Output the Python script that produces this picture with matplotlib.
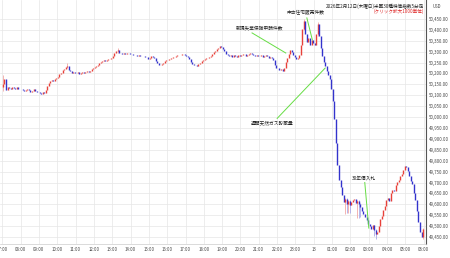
import matplotlib
matplotlib.use("Agg")
import matplotlib.pyplot as plt
from matplotlib.ticker import FuncFormatter

plt.rcParams['font.family'] = ['Noto Sans CJK JP', 'DejaVu Sans']

# 5分足の終値 (07:00〜05:55, 1時間ごとに12本)
close_07 = [50150, 50175, 50125, 50140, 50132, 50128, 50138, 50135, 50128, 50136, 50131, 50127]
close_08 = [50130, 50126, 50119, 50124, 50131, 50125, 50117, 50121, 50127, 50119, 50114, 50117]
close_09 = [50112, 50107, 50114, 50109, 50122, 50142, 50158, 50165, 50171, 50166, 50175, 50181]
close_10 = [50186, 50196, 50204, 50214, 50222, 50228, 50236, 50215, 50210, 50204, 50208, 50200]
close_11 = [50201, 50205, 50197, 50204, 50208, 50201, 50206, 50211, 50205, 50212, 50219, 50223]
close_12 = [50228, 50236, 50241, 50246, 50251, 50256, 50260, 50256, 50263, 50268, 50265, 50272]
close_13 = [50282, 50292, 50301, 50306, 50296, 50292, 50289, 50295, 50288, 50292, 50294, 50288]
close_14 = [50290, 50287, 50284, 50283, 50280, 50286, 50282, 50278, 50281, 50276, 50274, 50268]
close_15 = [50273, 50279, 50275, 50269, 50259, 50248, 50241, 50238, 50245, 50250, 50256, 50260]
close_16 = [50262, 50267, 50269, 50274, 50277, 50281, 50284, 50287, 50283, 50289, 50291, 50286]
close_17 = [50282, 50277, 50265, 50252, 50244, 50240, 50238, 50236, 50245, 50250, 50258, 50262]
close_18 = [50265, 50270, 50272, 50275, 50280, 50290, 50300, 50305, 50310, 50318, 50325, 50321]
close_19 = [50312, 50301, 50291, 50285, 50280, 50283, 50277, 50286, 50281, 50276, 50283, 50279]
close_20 = [50285, 50291, 50288, 50280, 50284, 50290, 50293, 50288, 50285, 50282, 50287, 50280]
close_21 = [50278, 50283, 50275, 50281, 50286, 50278, 50271, 50276, 50269, 50261, 50241, 50226]
close_22 = [50224, 50215, 50221, 50212, 50226, 50251, 50270, 50291, 50306, 50299, 50285, 50274]
close_23 = [50266, 50271, 50283, 50331, 50402, 50441, 50381, 50346, 50361, 50329, 50352, 50338]
close_00 = [50331, 50382, 50426, 50371, 50318, 50281, 50254, 50236, 50211, 50191, 50176, 50131]
close_01 = [50076, 49991, 49882, 49781, 49711, 49681, 49643, 49612, 49626, 49601, 49617, 49596]
close_02 = [49609, 49621, 49626, 49604, 49616, 49601, 49589, 49571, 49556, 49541, 49529, 49511]
close_03 = [49501, 49489, 49506, 49481, 49462, 49471, 49499, 49531, 49546, 49574, 49591, 49619]
close_04 = [49631, 49614, 49651, 49666, 49659, 49689, 49701, 49712, 49729, 49741, 49756, 49776]
close_05 = [49771, 49754, 49731, 49709, 49691, 49651, 49619, 49571, 49521, 49471, 49452, 49489]
first_open = 50140

# 目立つヒゲ: 足の番号 -> (安値, 高値)
wicks = {0: (50120, 50195), 42: (50225, 50248), 75: (50295, 50315),
         197: (50400, 50450), 206: (50370, 50435), 224: (49555, 49628),
         225: (49560, 49630), 226: (49558, 49620), 227: (49560, 49618),
         232: (49535, 49620), 233: (49538, 49618), 234: (49540, 49605),
         243: (49455, 49506), 244: (49440, 49485), 275: (49440, 49490)}

hour_labels = ['07:00', '08:00', '09:00', '10:00', '11:00', '12:00', '13:00',
               '14:00', '15:00', '16:00', '17:00', '18:00', '19:00', '20:00', '21:00',
               '22:00', '23:00', '13', '01:00', '02:00', '03:00', '04:00', '05:00', '06:00']

# (テキスト, テキスト位置[時間, 価格], 線の始点, 線の終点)
events = [('新規失業保険申請件数', (14.05, 50407), (13.63, 50386), (15.47, 50294)),
          ('中古住宅販売件数', (16.52, 50478), (16.62, 50455), (16.92, 50354)),
          ('週間天然ガス貯蔵量', (14.72, 49972), (15.0, 49994), (17.62, 50225)),
          ('30年債入札', (19.72, 49720), (19.78, 49700), (20.0, 49491))]

closes = (close_07 + close_08 + close_09 + close_10 + close_11 + close_12 + close_13 +
          close_14 + close_15 + close_16 + close_17 + close_18 + close_19 + close_20 +
          close_21 + close_22 + close_23 + close_00 + close_01 + close_02 + close_03 +
          close_04 + close_05)
opens = [first_open] + closes[:-1]
t = [i / 12 + 1 / 24 for i in range(len(closes))]

fig = plt.figure(figsize=(4.5, 2.58), dpi=100)
ax = fig.add_axes([0, 14 / 258, 426 / 450, 244 / 258])

up_col, dn_col = '#e8413a', '#3333cc'
for i in range(len(closes)):
    o, c = opens[i], closes[i]
    col = up_col if c >= o else dn_col
    pale = '#f2a8a6' if c >= o else '#a9a9e8'
    if i in wicks:
        lo, hi = wicks[i]
        ax.vlines(t[i], lo, hi, color=pale, lw=0.6, zorder=2)
    lo_b, hi_b = min(o, c), max(o, c)
    if hi_b - lo_b < 2:
        hi_b = lo_b + 2
    ax.vlines(t[i], lo_b, hi_b, color=col, lw=1.0, zorder=3)

for name, txt, p0, p1 in events:
    ax.plot([p0[0], p1[0]], [p0[1], p1[1]], color='#66dd44', lw=0.7, zorder=4)
    ax.text(txt[0], txt[1], name, fontsize=3.4, ha='center', va='center', color='#222222', zorder=5)

ax.set_xlim(-0.12, 23.12)
ax.set_ylim(49418, 50537)
ax.set_xticks(range(24))
ax.set_xticklabels(hour_labels)
ax.set_yticks(range(49450, 50451, 50))
ax.yaxis.tick_right()
ax.yaxis.set_major_formatter(FuncFormatter(lambda v, p: f'{v:,.2f}'))
ax.tick_params(axis='both', labelsize=3.1, colors='#444444', length=0, pad=2)
ax.grid(color='#e6e6e6', lw=0.5)
ax.set_axisbelow(True)
for s in ['top', 'left']:
    ax.spines[s].set_visible(False)
ax.spines['right'].set_color('#555555')
ax.spines['right'].set_linewidth(0.8)
ax.spines['bottom'].set_color('#cccccc')
ax.spines['bottom'].set_linewidth(0.5)

fig.text(424 / 450, 1 - 6 / 258, '2026年2月12日(木曜日)米国30種株価指数5分足', fontsize=3.3,
         ha='right', va='center', color='#222222')
fig.text(424 / 450, 1 - 11 / 258, '(クリック拡大1000単位)', fontsize=3.3,
         ha='right', va='center', color='#dd2222')
fig.text(433 / 450, 1 - 6 / 258, 'USD', fontsize=3.1, ha='left', va='center', color='#444444')

plt.savefig('out.png', dpi=100)
